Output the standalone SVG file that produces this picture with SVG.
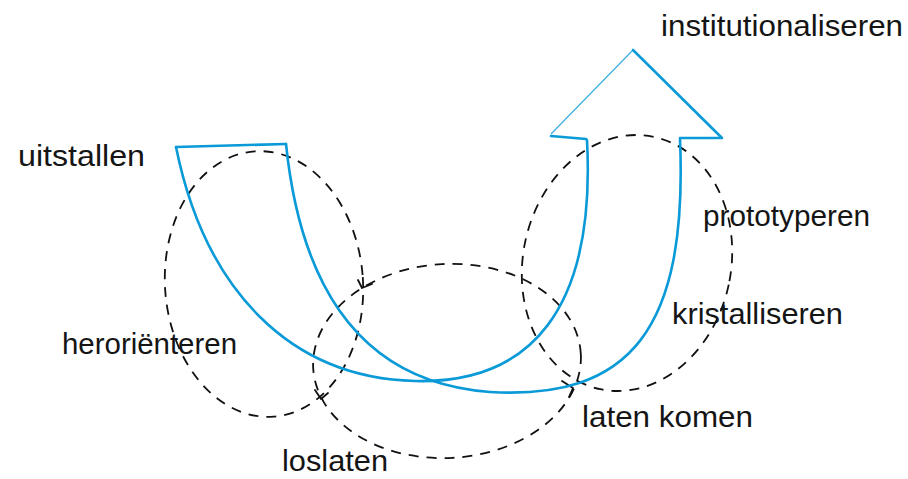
<svg xmlns="http://www.w3.org/2000/svg" width="908" height="479" viewBox="0 0 908 479">
<style>
.loop{fill:none;stroke:#111;stroke-width:1.8;stroke-dasharray:10 8;}
.tick{fill:none;stroke:#111;stroke-width:1.8;stroke-linecap:round;stroke-linejoin:round;}
.u{fill:none;stroke:#0a9ad8;stroke-width:2.6;stroke-linecap:round;stroke-linejoin:round;}
.lbl{font-family:"Liberation Sans","Open Sans",sans-serif;font-size:29px;fill:#151515;}
</style>
<rect width="908" height="479" fill="#fff"/>
<g id="loops">
<g id="loop-heroriënteren"><ellipse class="loop" cx="264" cy="284" rx="99" ry="133" transform="rotate(-4 264 284)"/><path class="tick" d="M358,280 L362,288 L372,284"/><path class="tick" d="M315,390 L321,399 L328,393"/></g>
<g id="loop-loslaten"><ellipse class="loop" cx="447" cy="361" rx="134" ry="97" transform="rotate(-3 447 361)"/><path class="tick" d="M562,381 L573,388 L569,397"/></g>
<g id="loop-laten-komen"><ellipse class="loop" cx="627" cy="263" rx="104" ry="129" transform="rotate(12 627 263)"/></g>
</g>
<g id="u-arrow">
<path class="u" d="M176,147 L286,144"/>
<path class="u" d="M176,147 C205,290 290,378 415,381 C530,384 596,310 587,140"/>
<path class="u" d="M286,144 C300,280 355,382 490,392 C630,400 688,330 680,139"/>
<path class="u" d="M551,136 L586,139"/>
<path class="u" d="M680,138 L722,138 L633,50" stroke-width="2"/>
<path d="M633,50 L551,134" fill="none" stroke="#0a9ad8" stroke-width="1.2" opacity="0.8"/>
</g>
<g id="labels">
<text class="lbl" x="661" y="36" textLength="242" lengthAdjust="spacingAndGlyphs">institutionaliseren</text>
<text class="lbl" x="18" y="166" textLength="127" lengthAdjust="spacingAndGlyphs">uitstallen</text>
<text class="lbl" x="62" y="354" textLength="175" lengthAdjust="spacingAndGlyphs">heroriënteren</text>
<text class="lbl" x="282" y="471" textLength="106" lengthAdjust="spacingAndGlyphs">loslaten</text>
<text class="lbl" x="703" y="226" textLength="167" lengthAdjust="spacingAndGlyphs">prototyperen</text>
<text class="lbl" x="672" y="324" textLength="171" lengthAdjust="spacingAndGlyphs">kristalliseren</text>
<text class="lbl" x="582" y="427" textLength="171" lengthAdjust="spacingAndGlyphs">laten komen</text>
</g>
</svg>
